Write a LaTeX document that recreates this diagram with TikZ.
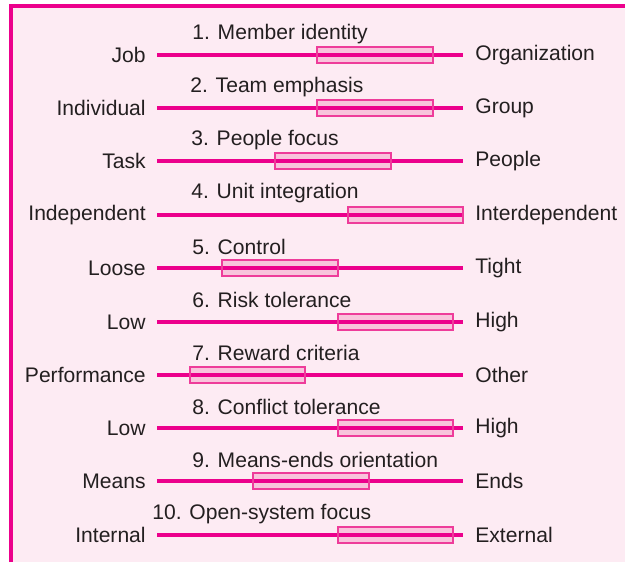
\documentclass[tikz,border=0pt]{standalone}
\usepackage{fontspec}
\setmainfont{Liberation Sans}

\definecolor{magline}{HTML}{EC008C}
\definecolor{magbox}{HTML}{EE3C9A}
\definecolor{boxfill}{HTML}{F8C4DC}
\definecolor{paper}{HTML}{FDEBF3}
\definecolor{ink}{HTML}{231F20}

\begin{document}
\begin{tikzpicture}[x=0.02cm,y=-0.02cm]
      \tikzstyle{every node}=[text=ink,font=\fontsize{12}{14}\selectfont,inner sep=0pt];
      \tikzstyle{lft}=[anchor=east];
      \tikzstyle{rgt}=[anchor=west];
      \tikzstyle{ttl}=[anchor=west];
      \tikzstyle{scale line}=[draw=magline,line width=3pt*0.75];
      \tikzstyle{rangefill}=[fill=boxfill];
      \tikzstyle{rangebox}=[draw=magbox,line width=1.2pt*0.75];
      \useasboundingbox (0,0) rectangle (625,562);

        % frame
        \path[fill=paper] (11,6) rectangle (625,562);
        \path[draw=magline,line width=2.4pt*0.75] (11,562) -- (11,6) -- (625,6);

        % 1
        \node[ttl] (t1) at (192,34) {1. Member identity};
        \node[lft] (l1) at (146,55) {Job};
        \node[rgt] (r1) at (475,55) {Organization};
        \coordinate (a1) at (157,55); \coordinate (b1) at (463,55);
        \path[rangefill] (317,47) rectangle (433,63);
        \path[scale line] (a1) -- (b1);
        \path[rangebox] (317,47) rectangle (433,63);

        % 2
        \node[ttl] (t2) at (190,87) {2. Team emphasis};
        \node[lft] (l2) at (146,108) {Individual};
        \node[rgt] (r2) at (475,108) {Group};
        \coordinate (a2) at (157,108); \coordinate (b2) at (463,108);
        \path[rangefill] (317,100) rectangle (433,116);
        \path[scale line] (a2) -- (b2);
        \path[rangebox] (317,100) rectangle (433,116);

        % 3
        \node[ttl] (t3) at (191,140) {3. People focus};
        \node[lft] (l3) at (146,161) {Task};
        \node[rgt] (r3) at (475,161) {People};
        \coordinate (a3) at (157,161); \coordinate (b3) at (463,161);
        \path[rangefill] (275,153) rectangle (391,169);
        \path[scale line] (a3) -- (b3);
        \path[rangebox] (275,153) rectangle (391,169);

        % 4
        \node[ttl] (t4) at (191,193) {4. Unit integration};
        \node[lft] (l4) at (146,215) {Independent};
        \node[rgt] (r4) at (475,215) {Interdependent};
        \coordinate (a4) at (157,215); \coordinate (b4) at (463,215);
        \path[rangefill] (348,207) rectangle (463,223);
        \path[scale line] (a4) -- (b4);
        \path[rangebox] (348,207) rectangle (463,223);

        % 5
        \node[ttl] (t5) at (192,247) {5. Control};
        \node[lft] (l5) at (146,268) {Loose};
        \node[rgt] (r5) at (475,268) {Tight};
        \coordinate (a5) at (157,268); \coordinate (b5) at (463,268);
        \path[rangefill] (222,260) rectangle (338,276);
        \path[scale line] (a5) -- (b5);
        \path[rangebox] (222,260) rectangle (338,276);

        % 6
        \node[ttl] (t6) at (192,300) {6. Risk tolerance};
        \node[lft] (l6) at (146,322) {Low};
        \node[rgt] (r6) at (475,322) {High};
        \coordinate (a6) at (157,322); \coordinate (b6) at (463,322);
        \path[rangefill] (338,314) rectangle (453,330);
        \path[scale line] (a6) -- (b6);
        \path[rangebox] (338,314) rectangle (453,330);

        % 7
        \node[ttl] (t7) at (192,353) {7. Reward criteria};
        \node[lft] (l7) at (146,375) {Performance};
        \node[rgt] (r7) at (475,375) {Other};
        \coordinate (a7) at (157,375); \coordinate (b7) at (463,375);
        \path[rangefill] (190,367) rectangle (305,383);
        \path[scale line] (a7) -- (b7);
        \path[rangebox] (190,367) rectangle (305,383);

        % 8
        \node[ttl] (t8) at (192,407) {8. Conflict tolerance};
        \node[lft] (l8) at (146,428) {Low};
        \node[rgt] (r8) at (475,428) {High};
        \coordinate (a8) at (157,428); \coordinate (b8) at (463,428);
        \path[rangefill] (338,420) rectangle (453,436);
        \path[scale line] (a8) -- (b8);
        \path[rangebox] (338,420) rectangle (453,436);

        % 9
        \node[ttl] (t9) at (192,460) {9. Means-ends orientation};
        \node[lft] (l9) at (146,481) {Means};
        \node[rgt] (r9) at (475,481) {Ends};
        \coordinate (a9) at (157,481); \coordinate (b9) at (463,481);
        \path[rangefill] (253,473) rectangle (369,489);
        \path[scale line] (a9) -- (b9);
        \path[rangebox] (253,473) rectangle (369,489);

        % 10
        \node[ttl] (t10) at (152,514) {10. Open-system focus};
        \node[lft] (l10) at (146,535) {Internal};
        \node[rgt] (r10) at (475,535) {External};
        \coordinate (a10) at (157,535); \coordinate (b10) at (463,535);
        \path[rangefill] (338,527) rectangle (453,543);
        \path[scale line] (a10) -- (b10);
        \path[rangebox] (338,527) rectangle (453,543);
    \end{tikzpicture}
\end{document}
